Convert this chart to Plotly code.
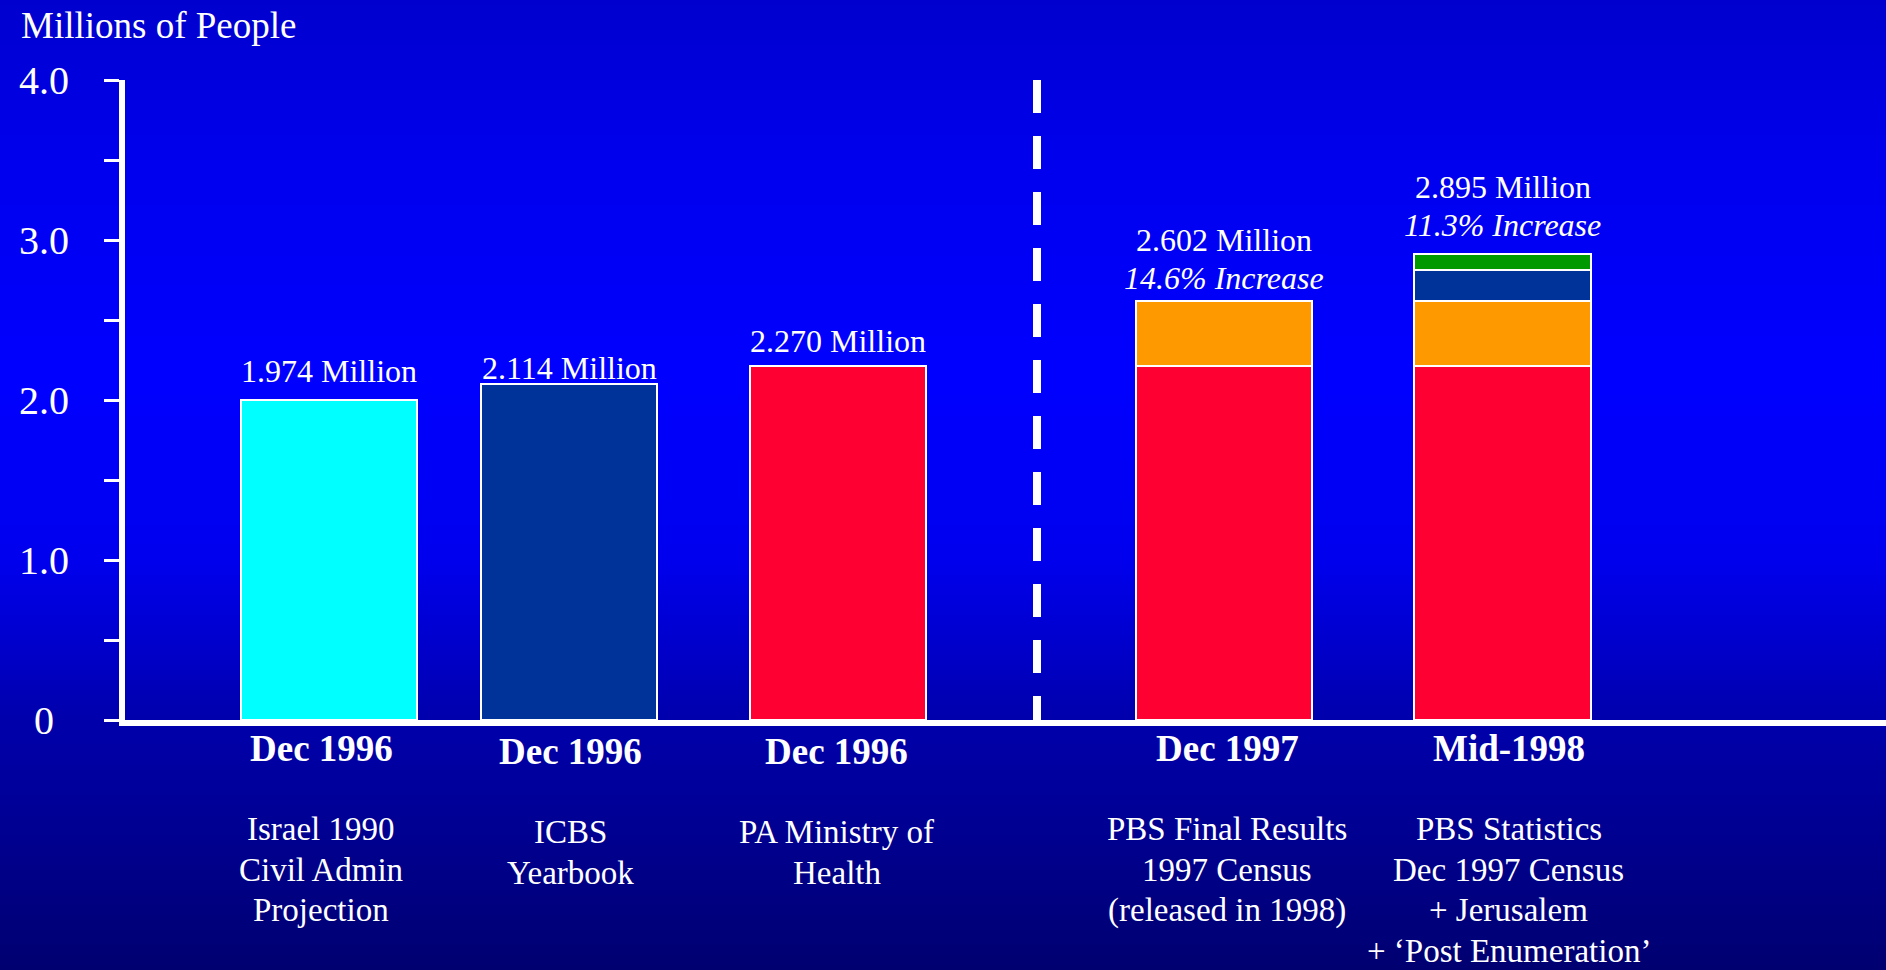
import plotly.graph_objects as go

# values (millions of people)
dates = ["Dec 1996", "Dec 1996", "Dec 1996", "Dec 1997", "Mid-1998"]
sources = [
    ["Israel 1990", "Civil Admin", "Projection"],
    ["ICBS", "Yearbook"],
    ["PA Ministry of", "Health"],
    ["PBS Final Results", "1997 Census", "(released in 1998)"],
    ["PBS Statistics", "Dec 1997 Census", "+ Jerusalem", "+ \u2018Post Enumeration\u2019"],
]
total_labels = ["1.974 Million", "2.114 Million", "2.270 Million", "2.602 Million", "2.895 Million"]
increase_labels = ["", "", "", "14.6% Increase", "11.3% Increase"]

# bar segments as drawn, bottom to top
israel_proj = [2.00, None, None, None, None]
icbs = [None, 2.10, None, None, None]
pbs_base = [None, None, 2.21, 2.21, 2.21]
census_extra = [None, None, None, 0.41, 0.41]
jerusalem = [None, None, None, None, 0.19]
post_enum = [None, None, None, None, 0.10]

y_ticks = [0, 1, 2, 3, 4]
y_tick_text = ["0", "1.0", "2.0", "3.0", "4.0"]

# layout
W, H = 1886, 970
L, R, T, B = 125, 0, 80, 250
PW, PH = W - L - R, H - T - B
FONT = "Liberation Serif, 'Times New Roman', serif"

slots = [1, 2, 3.12, 4.73, 5.89]
bar_w = 0.735
divider_x = 3.95
label_dx = [-8, 1, -1, 3, 6]
label_dy = [0, 3, 3, 0, 0]
top_shift = [9, -4, 5, 3, 9]


def px_x(px):
    return (px - L) / PW


def px_y(py):
    return (H - B - py) / PH


def bg_blue(py):
    stops = [(0, 205), (160, 238), (380, 255), (560, 238), (720, 172), (970, 112)]
    for (a, ca), (b, cb) in zip(stops, stops[1:]):
        if py <= b:
            return ca + (cb - ca) * (py - a) / (b - a)
    return stops[-1][1]


fig = go.Figure()

segments = [
    (israel_proj, "#00FFFF"),
    (icbs, "#003399"),
    (pbs_base, "#FF0033"),
    (census_extra, "#FF9900"),
    (jerusalem, "#003399"),
    (post_enum, "#009900"),
]
for vals, col in segments:
    fig.add_trace(go.Bar(
        x=slots, y=vals, width=bar_w,
        marker=dict(color=col, line=dict(color="white", width=2.5)),
        showlegend=False, hoverinfo="skip",
    ))

totals = [sum(v[i] for v, _ in segments if v[i] is not None) for i in range(len(slots))]

ann = []
# labels above bars
for i, x in enumerate(slots):
    shift = top_shift[i]
    if increase_labels[i]:
        ann.append(dict(x=x, y=totals[i], xref="x", yref="y", yanchor="bottom",
                        text="<i>" + increase_labels[i] + "</i>", yshift=shift,
                        showarrow=False, font=dict(size=32)))
        shift += 38
    ann.append(dict(x=x, y=totals[i], xref="x", yref="y", yanchor="bottom",
                    text=total_labels[i], yshift=shift,
                    showarrow=False, font=dict(size=32)))

# dates + sources below the axis
for i, x in enumerate(slots):
    ann.append(dict(x=x, y=0, xref="x", yref="paper", yanchor="middle",
                    text="<b>" + dates[i] + "</b>", xshift=label_dx[i],
                    yshift=-(748.4 + label_dy[i] - (H - B)),
                    showarrow=False, font=dict(size=37)))
    for k, line in enumerate(sources[i]):
        ann.append(dict(x=x, y=0, xref="x", yref="paper", yanchor="middle",
                        text=line, xshift=label_dx[i], borderpad=0,
                        yshift=-(829 + 40.5 * k + label_dy[i] - (H - B)),
                        showarrow=False, font=dict(size=33)))

# y tick labels, centred in the left margin
for v, t in zip(y_ticks, y_tick_text):
    ann.append(dict(x=px_x(43.5), y=v, xref="paper", yref="y", xanchor="center",
                    yanchor="middle", text=t, showarrow=False, font=dict(size=40)))

ann.append(dict(x=px_x(19), y=px_y(26), xref="paper", yref="paper", xanchor="left",
                yanchor="middle", text="Millions of People", showarrow=False,
                font=dict(size=37)))

# background gradient
shapes = []
step = 5
for top in range(0, H, step):
    b = int(round(bg_blue(top + step / 2)))
    shapes.append(dict(type="rect", xref="paper", yref="paper", layer="below",
                       x0=px_x(0), x1=1.0, y0=px_y(top + step + 0.6), y1=px_y(top),
                       line=dict(width=0), fillcolor="rgb(0,0,%d)" % b))

shapes.append(dict(type="line", xref="x", yref="y", x0=divider_x, x1=divider_x, y0=4, y1=0,
                   line=dict(color="white", width=8, dash="33px,23px")))

fig.update_layout(
    width=W, height=H, autosize=False,
    margin=dict(l=L, r=R, t=T, b=B, pad=0),
    barmode="stack", bargap=0,
    paper_bgcolor="rgb(0,0,200)", plot_bgcolor="rgba(0,0,0,0)",
    font=dict(family=FONT, color="white", size=32),
    annotations=ann, shapes=shapes,
    xaxis=dict(range=[0.15, 7.4875], showgrid=False, zeroline=False,
               showticklabels=False, ticks="", showline=True, linecolor="white",
               linewidth=6, fixedrange=True),
    yaxis=dict(range=[0, 4], showgrid=False, zeroline=False, showticklabels=False,
               tickvals=y_ticks, ticks="outside", ticklen=15, tickwidth=3,
               tickcolor="white", showline=True, linecolor="white", linewidth=6,
               minor=dict(dtick=0.5, tick0=0, ticks="outside", ticklen=15,
                          tickwidth=3, tickcolor="white", showgrid=False),
               fixedrange=True),
)

fig.write_html("out.html", config={"displayModeBar": False},
               post_script="document.body.style.margin='0';document.body.style.overflow='hidden';")
